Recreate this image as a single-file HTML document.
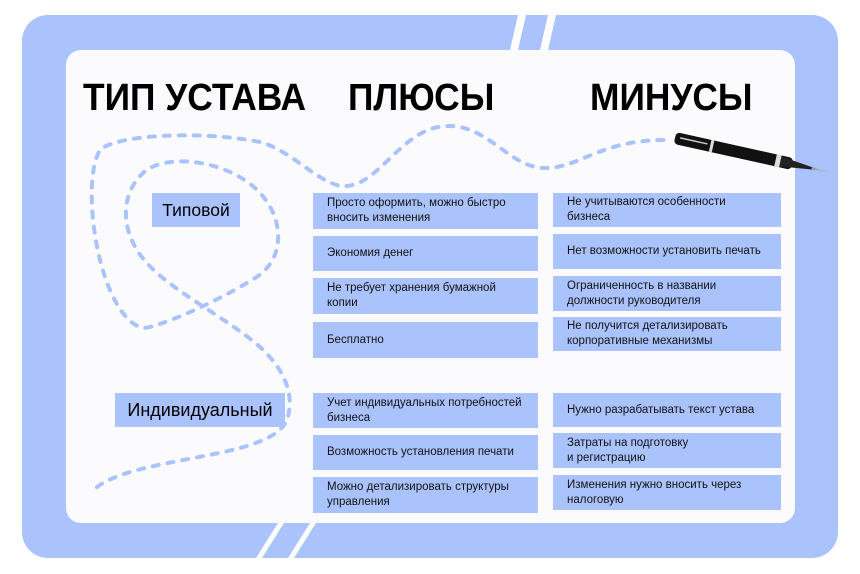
<!DOCTYPE html>
<html><head><meta charset="utf-8"><style>
*{margin:0;padding:0;box-sizing:border-box}
body{width:860px;height:574px;background:#fff;position:relative;overflow:hidden;font-family:"Liberation Sans","Noto Sans CJK SC",sans-serif}
.outer{position:absolute;left:22px;top:15px;width:816px;height:543px;background:#abc3fd;border-radius:26px}
.inner{position:absolute;left:66px;top:50px;width:729px;height:473px;background:#fbfbfd;border-radius:15px}
.h{position:absolute;top:77px;font-weight:bold;font-size:38px;color:#000;transform:scaleX(0.93);transform-origin:left top;white-space:nowrap}
.b{position:absolute;background:#abc3fd;color:#111;font-size:11.5px;line-height:15px;padding-left:14px;display:flex;align-items:center}
.t{position:absolute;background:#abc3fd;color:#000;display:flex;align-items:center;justify-content:center}
svg{position:absolute;left:0;top:0}
</style></head><body>
<div class="outer"></div>
<div class="inner"></div>
<svg width="860" height="574">
<polygon points="518,15 526,15 518,50 510,50" fill="#fff"/>
<polygon points="548,15 556,15 548,50 540,50" fill="#fff"/>
<polygon points="278,523 284,523 262,558 256,558" fill="#fff"/>
<polygon points="310,523 316,523 294,558 288,558" fill="#fff"/>
<path d="M97,487 C140,455 270,460 287,420 C295,395 285,370 260,347 C230,320 170,290 147,263 C125,240 115,200 143,173 C165,152 230,160 260,193 C285,220 285,260 255,278 C220,300 175,320 150,327 C130,333 110,300 100,260 C90,220 88,170 100,150 C115,135 200,130 260,142 C290,150 315,180 340,186 C380,190 400,125 450,126 C490,127 510,168 545,168 C580,168 600,140 665,140" fill="none" stroke="#abc3fd" stroke-width="4" stroke-dasharray="6 9" stroke-linecap="round"/>
<g transform="translate(675,138) rotate(12.5)">
<rect x="0" y="-6" width="120" height="12" rx="4" fill="#111"/>
<rect x="5" y="-2" width="28" height="1.5" fill="#ccc"/>
<rect x="36" y="-6" width="3" height="12" fill="#ddd"/>
<rect x="103" y="-6" width="5" height="12" fill="#ddd"/>
<polygon points="108,-5 125,-3 150,0 125,3 108,5" fill="#222"/>
<polygon points="140,-1 158,0 140,1" fill="#aaa"/>
</g>
</svg>
<div class="h" style="left:83px">ТИП УСТАВА</div>
<div class="h" style="left:348px">ПЛЮСЫ</div>
<div class="h" style="left:590px">МИНУСЫ</div>
<div class="t" style="left:152px;top:193px;width:88px;height:34px;font-size:17.5px">Типовой</div>
<div class="t" style="left:115px;top:393px;width:170px;height:34px;font-size:18px">Индивидуальный</div>
<div class="b" style="left:313px;top:193px;width:225px;height:36px">Просто оформить, можно быстро<br>вносить изменения</div>
<div class="b" style="left:313px;top:236px;width:225px;height:35px">Экономия денег</div>
<div class="b" style="left:313px;top:278px;width:225px;height:36px">Не требует хранения бумажной<br>копии</div>
<div class="b" style="left:313px;top:322px;width:225px;height:36px">Бесплатно</div>
<div class="b" style="left:553px;top:193px;width:228px;height:34px">Не учитываются особенности<br>бизнеса</div>
<div class="b" style="left:553px;top:234px;width:228px;height:35px">Нет возможности установить печать</div>
<div class="b" style="left:553px;top:276px;width:228px;height:35px">Ограниченность в названии<br>должности руководителя</div>
<div class="b" style="left:553px;top:317px;width:228px;height:34px">Не получится детализировать<br>корпоративные механизмы</div>
<div class="b" style="left:313px;top:393px;width:225px;height:35px">Учет индивидуальных потребностей<br>бизнеса</div>
<div class="b" style="left:313px;top:435px;width:225px;height:35px">Возможность установления печати</div>
<div class="b" style="left:313px;top:477px;width:225px;height:36px">Можно детализировать структуры<br>управления</div>
<div class="b" style="left:553px;top:393px;width:228px;height:34px">Нужно разрабатывать текст устава</div>
<div class="b" style="left:553px;top:433px;width:228px;height:35px">Затраты на подготовку<br>и регистрацию</div>
<div class="b" style="left:553px;top:475px;width:228px;height:35px">Изменения нужно вносить через<br>налоговую</div>
</body></html>
